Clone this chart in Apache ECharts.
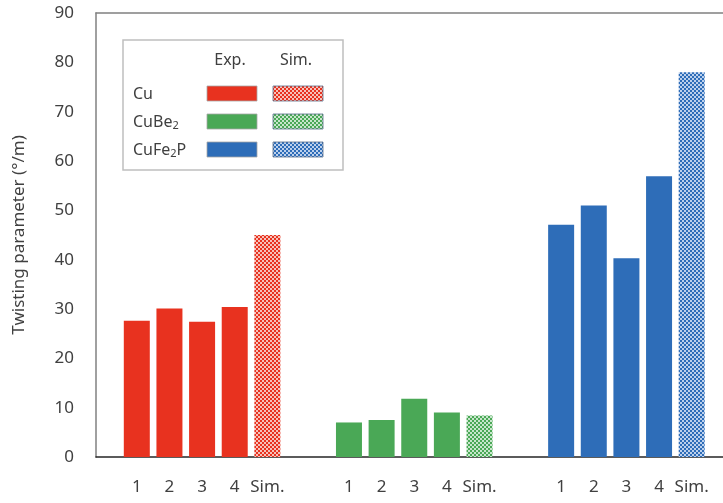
<!DOCTYPE html>
<html><head><meta charset="utf-8">
<script src="https://cdn.jsdelivr.net/npm/echarts@6/dist/echarts.min.js"></script>
<style>html,body{margin:0;padding:0;background:#fff;overflow:hidden}#c{width:723px;height:503px}</style>
</head><body><div id="c"></div>
<script>
// ---- data ----
var runLabels = ['1', '2', '3', '4', 'Sim.'];
var groupNames = ['Cu', 'CuBe2', 'CuFe2P'];
var cuExp = [27.6, 30.1, 27.4, 30.4];
var cuSim = 45.0;
var cuBe2Exp = [7.0, 7.5, 11.8, 9.0];
var cuBe2Sim = 8.4;
var cuFe2PExp = [47.1, 51.0, 40.3, 56.9];
var cuFe2PSim = 78.0;
var yTicks = [0, 10, 20, 30, 40, 50, 60, 70, 80, 90];

// ---- layout of category slots (half-pitch slots) ----
var lead = 2, between = 1, groupGap = 4, trail = 2;
var categories = [];
var slotIndex = [];
function pushBlank(n){ for (var k=0;k<n;k++) categories.push(''); }
pushBlank(lead);
for (var g=0; g<3; g++){
  if (g>0) pushBlank(groupGap);
  slotIndex.push([]);
  for (var i=0;i<runLabels.length;i++){
    if (i>0) pushBlank(between);
    slotIndex[g].push(categories.length);
    categories.push(runLabels[i]);
  }
}
pushBlank(trail);

var colors = ['#E8321F', '#4AA856', '#2E6DB8'];
var tints = ['#F6C2BA', '#C7E6CB', '#BCD0EC'];
function makePattern(color, tint){
  var c = document.createElement('canvas'); c.width = 4; c.height = 4;
  var g = c.getContext('2d');
  g.fillStyle = tint; g.fillRect(0,0,4,4);
  g.fillStyle = color; g.fillRect(0,0,2,2); g.fillRect(2,2,2,2);
  return c;
}
var expData = [cuExp, cuBe2Exp, cuFe2PExp];
var simData = [cuSim, cuBe2Sim, cuFe2PSim];

var series = [];
for (var g=0; g<3; g++){
  var e = categories.map(function(){return null;});
  for (var i=0;i<4;i++) e[slotIndex[g][i]] = expData[g][i];
  var s = categories.map(function(){return null;});
  s[slotIndex[g][4]] = simData[g];
  series.push({type:'bar', name: groupNames[g]+' Exp.', data:e, barWidth:26, barGap:'-100%',
    itemStyle:{color:colors[g]}, silent:true});
  series.push({type:'bar', name: groupNames[g]+' Sim.', data:s, barWidth:26, barGap:'-100%',
    itemStyle:{color:{image:makePattern(colors[g], tints[g]), repeat:'repeat'}}, silent:true});
}

var FONT = 'Noto Sans';
var TXT = '#404040';
var chart = echarts.init(document.getElementById('c'), null, {renderer:'canvas'});

var lx = 123, ly = 40;
var rowY = [86, 114, 142];
var rowText = ['Cu', 'CuBe{sub|2}', 'CuFe{sub|2}P'];
var graphic = [
  {type:'rect', shape:{x:lx, y:ly, width:220, height:130}, style:{fill:'#fff', stroke:'#BFBFBF', lineWidth:1.5}, z:10},
  {type:'text', x:230, y:60, z:11, style:{text:'Exp.', fontFamily:FONT, fontSize:16, fill:TXT, align:'center', verticalAlign:'middle'}},
  {type:'text', x:296, y:60, z:11, style:{text:'Sim.', fontFamily:FONT, fontSize:16, fill:TXT, align:'center', verticalAlign:'middle'}},
  {type:'rect', shape:{x:716, y:14, width:10, height:442}, style:{fill:'#fff'}, z:50, silent:true}
];
for (var r=0;r<3;r++){
  graphic.push({type:'text', x:133, y:rowY[r]+8, z:11, style:{text:rowText[r], fontFamily:FONT, fontSize:16, fill:TXT, align:'left', verticalAlign:'middle',
    rich:{sub:{fontFamily:FONT, fontSize:11, fill:TXT, padding:[8,0,0,0]}}}});
  graphic.push({type:'rect', z:11, shape:{x:207, y:rowY[r], width:50, height:15}, style:{fill:colors[r], stroke:'#A6A6A6', lineWidth:0.8}});
  graphic.push({type:'rect', z:11, shape:{x:273, y:rowY[r], width:50, height:15}, style:{fill:{image:makePattern(colors[r], tints[r]), repeat:'repeat'}, stroke:'#5A6E8C', lineWidth:0.8}});
}

chart.setOption({
  animation:false,
  backgroundColor:'#fff',
  grid:{left:96, top:13, bottom:46, right:-9.5, show:false, containLabel:false, outerBoundsMode:'none'},
  xAxis:[{type:'category', data:categories, boundaryGap:true,
    axisLine:{show:true, lineStyle:{color:'#262626', width:1.5}},
    axisTick:{show:false},
    axisLabel:{interval:0, margin:22, color:TXT, fontFamily:FONT, fontSize:17, hideOverlap:false},
    splitLine:{show:false}},
    {type:'category', data:categories, position:'top', boundaryGap:true,
    axisLine:{show:true, lineStyle:{color:'#808080', width:1.5}},
    axisTick:{show:false}, axisLabel:{show:false}, splitLine:{show:false}}],
  yAxis:[{type:'value', min:yTicks[0], max:yTicks[yTicks.length-1], interval:yTicks[1]-yTicks[0],
    position:'left',
    name:'Twisting parameter (°/m)', nameLocation:'middle', nameGap:68,
    nameTextStyle:{color:TXT, fontFamily:FONT, fontSize:17},
    axisLine:{show:true, lineStyle:{color:'#808080', width:1.5}},
    axisTick:{show:false},
    axisLabel:{margin:22, color:TXT, fontFamily:FONT, fontSize:17},
    splitLine:{show:false}}],
  series:series,
  graphic:graphic
});
</script>
</body></html>
